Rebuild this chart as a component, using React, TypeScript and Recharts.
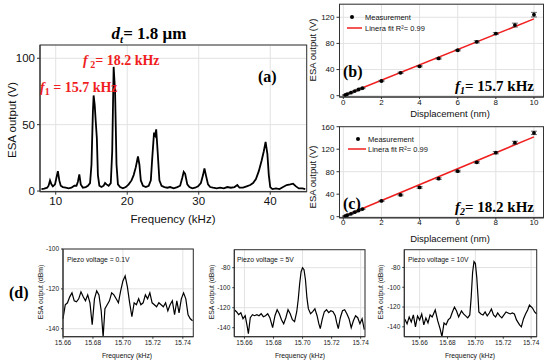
import { ComposedChart, LineChart, Line, Scatter, ErrorBar, XAxis, YAxis, CartesianGrid } from 'recharts';

const PAGE_W = 550;
const PAGE_H = 361;

// (a) ESA spectrum, d_t = 1.8 um
const A_FREQ = [
  8.0, 8.4, 8.8, 9.0, 9.2, 9.4, 9.6, 9.9, 10.1, 10.3, 10.5, 10.7, 11.0, 11.4, 11.8, 12.2, 12.6, 12.9, 13.1, 13.3,
  13.5, 13.8, 14.2, 14.5, 14.8, 15.0, 15.2, 15.3, 15.45, 15.6, 15.75, 15.9, 16.1, 16.4, 16.7, 16.9, 17.1, 17.4, 17.7, 17.9,
  18.1, 18.3, 18.5, 18.7, 19.0, 19.4, 19.8, 20.2, 20.6, 20.9, 21.2, 21.5, 21.7, 21.9, 22.2, 22.6, 23.0, 23.3, 23.5, 23.75,
  23.9, 24.05, 24.25, 24.5, 24.8, 25.2, 25.6, 26.0, 26.5, 27.0, 27.4, 27.7, 27.9, 28.1, 28.4, 28.7, 29.1, 29.5, 29.9, 30.3,
  30.6, 30.8, 31.0, 31.3, 31.6, 32.0, 32.5, 33.0, 33.5, 34.0, 34.5, 35.0, 35.4, 35.7, 36.2, 36.7, 37.2, 37.6, 38.0, 38.4,
  38.8, 39.1, 39.35, 39.6, 39.8, 40.0, 40.3, 40.8, 41.3, 41.8, 42.3, 42.8, 43.2, 43.6, 44.0, 44.5, 44.9,
];
const A_ESA = [
  1.5, 1.8, 2.5, 4, 8, 5, 3.5, 5, 10, 15, 8, 4, 3, 2.5, 2, 2.5, 4, 4, 7, 12.5,
  5, 2.5, 3, 4, 6, 20, 60, 72, 65, 52, 40, 12, 4, 3, 4, 6, 5, 4, 6, 30,
  93.5, 75, 20, 5, 3, 2, 3, 5, 8, 12, 18, 26, 20, 8, 4, 3, 4, 8, 25, 44,
  42, 46.5, 30, 8, 4, 3, 2.5, 3, 2, 3, 4, 10, 14.5, 13, 5, 3, 2, 2.5, 3.5, 6,
  12, 17, 12, 5, 3, 2.5, 2, 2.5, 2, 3, 2.5, 3, 4.5, 2.5, 2.5, 3.5, 4.5, 6, 9, 15,
  23, 30, 37, 28, 12, 3, 1.5, 2, 1.5, 3, 4.5, 5, 5.5, 3.5, 2, 2, 1.5,
];
const A_X_TICKS = [10, 20, 30, 40];
const A_Y_TICKS = [0, 50, 100];

// (b), (c) ESA output vs displacement
const DISP = [0.1, 0.2, 0.4, 0.6, 0.8, 1, 2, 3, 4, 5, 6, 7, 8, 9, 10];
const B_MEAS = [1, 2.5, 4.6, 7, 9.5, 11.5, 22.5, 35, 45, 57, 69.5, 82.5, 95, 108, 124];
const B_ERR = [0.5, 0.5, 0.5, 0.5, 0.5, 0.8, 1, 1, 1, 1, 1, 1.5, 1.5, 3, 3.5];
const C_MEAS = [1, 2.5, 5, 8, 11, 13.5, 28, 38.6, 52, 67.6, 81, 96.7, 113.8, 131.6, 149];
const C_ERR = [0.5, 0.5, 0.5, 0.5, 0.5, 0.8, 1, 1.5, 1.5, 1.5, 1.5, 1.5, 2, 2.5, 3];
const FIT_X = [0, 10];
const B_FIT = [0.3, 117.5];
const C_FIT = [0.3, 142];
const DISP_TICKS = [0, 2, 4, 6, 8, 10];
const B_Y_TICKS = [0, 40, 80, 120];
const C_Y_TICKS = [0, 40, 80, 120, 160];

// (d) ESA spectra around 15.7 kHz for three piezo voltages
const D1_FREQ = [
  15.66, 15.6615, 15.663, 15.6645, 15.666, 15.6675, 15.669, 15.6705, 15.672, 15.6735, 15.675, 15.6765, 15.678, 15.6795,
  15.681, 15.6825, 15.684, 15.6855, 15.6868, 15.688, 15.6895, 15.691, 15.6925, 15.694, 15.6955, 15.697, 15.6985, 15.7,
  15.7015, 15.703, 15.7045, 15.706, 15.7075, 15.709, 15.7105, 15.712, 15.7135, 15.715, 15.7165, 15.718, 15.7195, 15.721,
  15.7225, 15.724, 15.7255, 15.727, 15.7285, 15.73, 15.7315, 15.733, 15.7345, 15.736, 15.7375, 15.739, 15.7405, 15.742,
  15.7435, 15.745, 15.7465,
];
const D1_DBM = [
  -135, -128, -127, -124, -122, -126, -126.5, -125, -121.5, -124, -126, -123, -127, -138,
  -125, -121, -123, -131, -144, -130, -128, -126, -122, -123, -125, -127, -121, -116,
  -113.5, -119, -127, -134, -127, -128, -125, -128, -127, -123, -125, -122, -127, -128,
  -129, -127, -128, -129, -127, -131, -128, -126, -133, -126, -132, -125, -122, -125,
  -133, -135, -136,
];
const D2_FREQ = [
  15.653, 15.6545, 15.656, 15.6575, 15.659, 15.6605, 15.6618, 15.6627, 15.664, 15.6655, 15.667, 15.6685, 15.67, 15.6715,
  15.673, 15.6745, 15.676, 15.6775, 15.6794, 15.681, 15.6825, 15.684, 15.6855, 15.687, 15.6885, 15.69, 15.6915, 15.693,
  15.6945, 15.696, 15.697, 15.698, 15.699, 15.7, 15.701, 15.702, 15.703, 15.704, 15.7055, 15.707, 15.7085, 15.71,
  15.7112, 15.7122, 15.7135, 15.715, 15.7165, 15.718, 15.7195, 15.721, 15.7225, 15.7235, 15.7246, 15.726, 15.7275, 15.729,
  15.7305, 15.732, 15.7335, 15.735, 15.7365, 15.738, 15.7395, 15.741, 15.7425,
];
const D2_DBM = [
  -122, -124, -127, -125, -131, -128, -138, -146, -130, -127, -128, -127, -128, -126,
  -129, -128, -126, -130, -140, -128, -122, -126, -132, -136, -130, -122, -126, -132,
  -134, -124, -112, -96, -84, -80, -82, -92, -110, -121, -126, -124, -121, -128,
  -136, -141, -132, -124, -122, -125, -123, -124, -128, -135, -141, -130, -123, -122,
  -126, -131, -140, -133, -128, -130, -136, -131, -142,
];
const D3_FREQ = [
  15.6493, 15.651, 15.6525, 15.654, 15.6555, 15.657, 15.6585, 15.66, 15.6615, 15.663, 15.6645, 15.666, 15.6675, 15.669,
  15.6712, 15.673, 15.6747, 15.676, 15.6775, 15.679, 15.6805, 15.682, 15.6835, 15.685, 15.6865, 15.688, 15.69, 15.6915,
  15.693, 15.6945, 15.696, 15.697, 15.698, 15.699, 15.7, 15.701, 15.702, 15.7025, 15.704, 15.7055, 15.707, 15.7085,
  15.71, 15.7115, 15.713, 15.7145, 15.716, 15.7175, 15.719, 15.7205, 15.722, 15.7235, 15.725, 15.7265, 15.728, 15.7295,
  15.7317, 15.733, 15.7345, 15.736, 15.7375, 15.7388, 15.741, 15.7425, 15.744,
];
const D3_DBM = [
  -132, -137, -130, -135, -128, -140, -129, -133, -127, -138, -131, -136, -128, -130,
  -123, -134, -142, -150, -136, -138, -133, -131, -125, -120, -124, -130, -124, -127,
  -129, -131, -128, -110, -85, -74, -76, -90, -112, -125, -127, -128, -125, -129,
  -126, -122, -128, -130, -126, -129, -131, -128, -125, -126, -127, -126, -127, -133,
  -138, -140, -132, -127, -123, -118, -121, -125, -127,
];
const D_X_TICKS = [15.66, 15.68, 15.7, 15.72, 15.74];
const D1_Y_TICKS = [-140, -120, -100];
const D23_Y_TICKS = [-140, -120, -100, -80];

const SANS = 'Liberation Sans, Arial, sans-serif';
const SERIF = 'Liberation Serif, Times New Roman, serif';
const RED = '#f01e1e';
const GRID = '#e2e2e2';
const AXIS = '#333';

const aData = A_FREQ.map((f, i) => ({ x: f, y: A_ESA[i] }));
const bData = DISP.map((d, i) => ({ x: d, y: B_MEAS[i], err: B_ERR[i] }));
const cData = DISP.map((d, i) => ({ x: d, y: C_MEAS[i], err: C_ERR[i] }));
const bFit = FIT_X.map((d, i) => ({ x: d, y: B_FIT[i] }));
const cFit = FIT_X.map((d, i) => ({ x: d, y: C_FIT[i] }));
const d1Data = D1_FREQ.map((f, i) => ({ x: f, y: D1_DBM[i] }));
const d2Data = D2_FREQ.map((f, i) => ({ x: f, y: D2_DBM[i] }));
const d3Data = D3_FREQ.map((f, i) => ({ x: f, y: D3_DBM[i] }));

type Box = { l: number; t: number; r: number; b: number };

const A_BOX: Box = { l: 40, t: 45, r: 306.7, b: 191.7 };
const B_BOX: Box = { l: 339.5, t: 4.2, r: 543.5, b: 97 };
const C_BOX: Box = { l: 339.5, t: 126.7, r: 543.5, b: 217.8 };
const D1_BOX: Box = { l: 63, t: 249, r: 193.3, b: 336.7 };
const D2_BOX: Box = { l: 234.3, t: 249.7, r: 365, b: 336.7 };
const D3_BOX: Box = { l: 404.3, t: 249.7, r: 536.7, b: 336.7 };

// every chart covers the whole page; margins put its plot area on the box
function margins(box: Box, yW: number, xH: number) {
  return { top: box.t, right: PAGE_W - box.r, left: box.l - yW, bottom: PAGE_H - box.b - xH };
}

const layer: React.CSSProperties = { position: 'absolute', left: 0, top: 0 };

function SpectrumChart() {
  return (
    <div style={layer}>
      <LineChart width={PAGE_W} height={PAGE_H} data={aData} margin={margins(A_BOX, 40, 30)}>
        <CartesianGrid stroke={GRID} />
        <XAxis dataKey="x" type="number" domain={[7.8, 45.1]} ticks={A_X_TICKS} height={30}
          tickSize={3} stroke={AXIS} tick={{ fontSize: 11.5, fill: '#111', fontFamily: SANS }} />
        <YAxis type="number" domain={[-0.5, 110]} ticks={A_Y_TICKS} width={40}
          tickSize={3} stroke={AXIS} tick={{ fontSize: 11.5, fill: '#111', fontFamily: SANS }} />
        <Line dataKey="y" stroke="#000" strokeWidth={1.8} dot={false} isAnimationActive={false} />
      </LineChart>
    </div>
  );
}

const Dot = (p: any) => <circle cx={p.cx} cy={p.cy} r={1.9} fill="#000" />;

function DisplacementChart({ box, data, fit, yMax, yTicks }: any) {
  return (
    <div style={layer}>
      <ComposedChart width={PAGE_W} height={PAGE_H} margin={margins(box, 30, 20)}>
        <CartesianGrid stroke={GRID} />
        <XAxis dataKey="x" type="number" domain={[-0.2, 10.5]} ticks={DISP_TICKS} height={20}
          tickSize={2} tickMargin={0} stroke={AXIS} tick={{ fontSize: 8, fill: '#111', fontFamily: SANS }} />
        <YAxis type="number" domain={[-2, yMax]} ticks={yTicks} width={30}
          tickSize={3} stroke={AXIS} tick={{ fontSize: 8, fill: '#111', fontFamily: SANS }} />
        <Line data={fit} dataKey="y" stroke={RED} strokeWidth={1.5} dot={false} isAnimationActive={false} />
        <Scatter data={data} dataKey="y" shape={Dot} isAnimationActive={false}>
          <ErrorBar dataKey="err" direction="y" width={3} stroke="#444" strokeWidth={0.8} />
        </Scatter>
      </ComposedChart>
    </div>
  );
}

function PiezoChart({ box, data, xDomain, yDomain, yTicks }: any) {
  return (
    <div style={layer}>
      <LineChart width={PAGE_W} height={PAGE_H} data={data} margin={margins(box, 25, 14)}>
        <CartesianGrid stroke={GRID} />
        <XAxis dataKey="x" type="number" domain={xDomain} ticks={D_X_TICKS} height={14}
          tickFormatter={(v: number) => v.toFixed(2)} tickSize={2} stroke={AXIS}
          tick={{ fontSize: 6.5, fill: '#222', fontFamily: SANS }} />
        <YAxis type="number" domain={yDomain} ticks={yTicks} width={25}
          tickSize={2} stroke={AXIS} tick={{ fontSize: 6.5, fill: '#222', fontFamily: SANS }} />
        <Line dataKey="y" stroke="#000" strokeWidth={1.2} dot={false} isAnimationActive={false} />
      </LineChart>
    </div>
  );
}

function Frame({ box }: { box: Box }) {
  return <rect x={box.l} y={box.t} width={box.r - box.l} height={box.b - box.t} fill="none" stroke={AXIS} strokeWidth={1} />;
}

function Overlay() {
  const bold = { fontFamily: SERIF, fontWeight: 700 } as const;
  return (
    <svg width={PAGE_W} height={PAGE_H} style={{ ...layer, pointerEvents: 'none' }}>
      {[A_BOX, B_BOX, C_BOX, D1_BOX, D2_BOX, D3_BOX].map((b, i) => <Frame key={i} box={b} />)}

      {/* (a) */}
      <text x={149} y={38.5} textAnchor="middle" fontSize={17} {...bold}>
        <tspan fontStyle="italic">d</tspan><tspan fontSize={11} dy={4} fontStyle="italic">t</tspan><tspan dy={-4}>= 1.8 μm</tspan>
      </text>
      <text x={83} y={65} fontSize={14} fill={RED} {...bold}>
        <tspan fontStyle="italic">f</tspan><tspan fontSize={10} dy={3}> 2</tspan><tspan dy={-3}>= 18.2 kHz</tspan>
      </text>
      <text x={40} y={92} fontSize={14} fill={RED} {...bold}>
        <tspan fontStyle="italic">f</tspan><tspan fontSize={10} dy={3}>1</tspan><tspan dy={-3}> = 15.7 kHz</tspan>
      </text>
      <text x={258} y={82} fontSize={16} {...bold}>(a)</text>
      <text transform="translate(16,120) rotate(-90)" textAnchor="middle" fontSize={11.5} fontFamily={SANS} fill="#111">ESA output (V)</text>
      <text x={173} y={223} textAnchor="middle" fontSize={11.5} fontFamily={SANS} fill="#111">Frequency (kHz)</text>

      {/* (b) */}
      <circle cx={352} cy={17} r={2} fill="#000" />
      <text x={365} y={19.5} fontSize={7.5} fontFamily={SANS} fill="#111">Measurement</text>
      <line x1={347} x2={362} y1={28} y2={28} stroke={RED} strokeWidth={1.5} />
      <text x={365} y={30.5} fontSize={7.5} fontFamily={SANS} fill="#111">Linera fit R²= 0.99</text>
      <text x={343} y={77} fontSize={16} {...bold}>(b)</text>
      <text x={455} y={91} fontSize={15} {...bold}>
        <tspan fontStyle="italic">f</tspan><tspan fontSize={10} dy={3} fontStyle="italic">1</tspan><tspan dy={-3}>= 15.7 kHz</tspan>
      </text>
      <text transform="translate(316,50) rotate(-90)" textAnchor="middle" fontSize={9.5} fontFamily={SANS} fill="#111">ESA output (V)</text>
      <text x={450} y={116.5} textAnchor="middle" fontSize={9.5} fontFamily={SANS} fill="#111">Displacement (nm)</text>

      {/* (c) */}
      <circle cx={358} cy={139} r={2} fill="#000" />
      <text x={368} y={141.5} fontSize={7.5} fontFamily={SANS} fill="#111">Measurement</text>
      <line x1={348} x2={366} y1={149} y2={149} stroke={RED} strokeWidth={1.5} />
      <text x={368} y={151.5} fontSize={7.5} fontFamily={SANS} fill="#111">Linera fit R²= 0.99</text>
      <text x={343} y={209} fontSize={16} {...bold}>(c)</text>
      <text x={455} y={212} fontSize={15} {...bold}>
        <tspan fontStyle="italic">f</tspan><tspan fontSize={10} dy={3} fontStyle="italic">2</tspan><tspan dy={-3}>= 18.2 kHz</tspan>
      </text>
      <text transform="translate(316,177) rotate(-90)" textAnchor="middle" fontSize={9.5} fontFamily={SANS} fill="#111">ESA output (V)</text>
      <text x={450} y={242} textAnchor="middle" fontSize={9.5} fontFamily={SANS} fill="#111">Displacement (nm)</text>

      {/* (d) */}
      <text x={9} y={298} fontSize={16} {...bold}>(d)</text>
      <text x={67} y={261.5} fontSize={6.8} fontFamily={SANS} fill="#111">Piezo voltage = 0.1V</text>
      <text x={237} y={261.5} fontSize={6.8} fontFamily={SANS} fill="#111">Piezo voltage = 5V</text>
      <text x={408} y={261.5} fontSize={6.8} fontFamily={SANS} fill="#111">Piezo voltage = 10V</text>
      {[40, 211, 380].map((x) => (
        <text key={x} transform={`translate(${x + 3},292) rotate(-90)`} textAnchor="middle" fontSize={6.8} fontFamily={SANS} fill="#111">ESA output (dBm)</text>
      ))}
      {[127, 300, 470].map((x) => (
        <text key={x} x={x} y={357.5} textAnchor="middle" fontSize={6.8} fontFamily={SANS} fill="#111">Frequency (kHz)</text>
      ))}
    </svg>
  );
}

export default function App() {
  return (
    <div style={{ position: 'absolute', left: 0, top: 0, width: PAGE_W, height: PAGE_H, background: '#fff' }}>
      <SpectrumChart />
      <DisplacementChart box={B_BOX} data={bData} fit={bFit} yMax={140} yTicks={B_Y_TICKS} />
      <DisplacementChart box={C_BOX} data={cData} fit={cFit} yMax={160} yTicks={C_Y_TICKS} />
      <PiezoChart box={D1_BOX} data={d1Data} xDomain={[15.66, 15.747]} yDomain={[-144, -100]} yTicks={D1_Y_TICKS} />
      <PiezoChart box={D2_BOX} data={d2Data} xDomain={[15.653, 15.743]} yDomain={[-149, -62]} yTicks={D23_Y_TICKS} />
      <PiezoChart box={D3_BOX} data={d3Data} xDomain={[15.649, 15.744]} yDomain={[-149, -62]} yTicks={D23_Y_TICKS} />
      <Overlay />
    </div>
  );
}
